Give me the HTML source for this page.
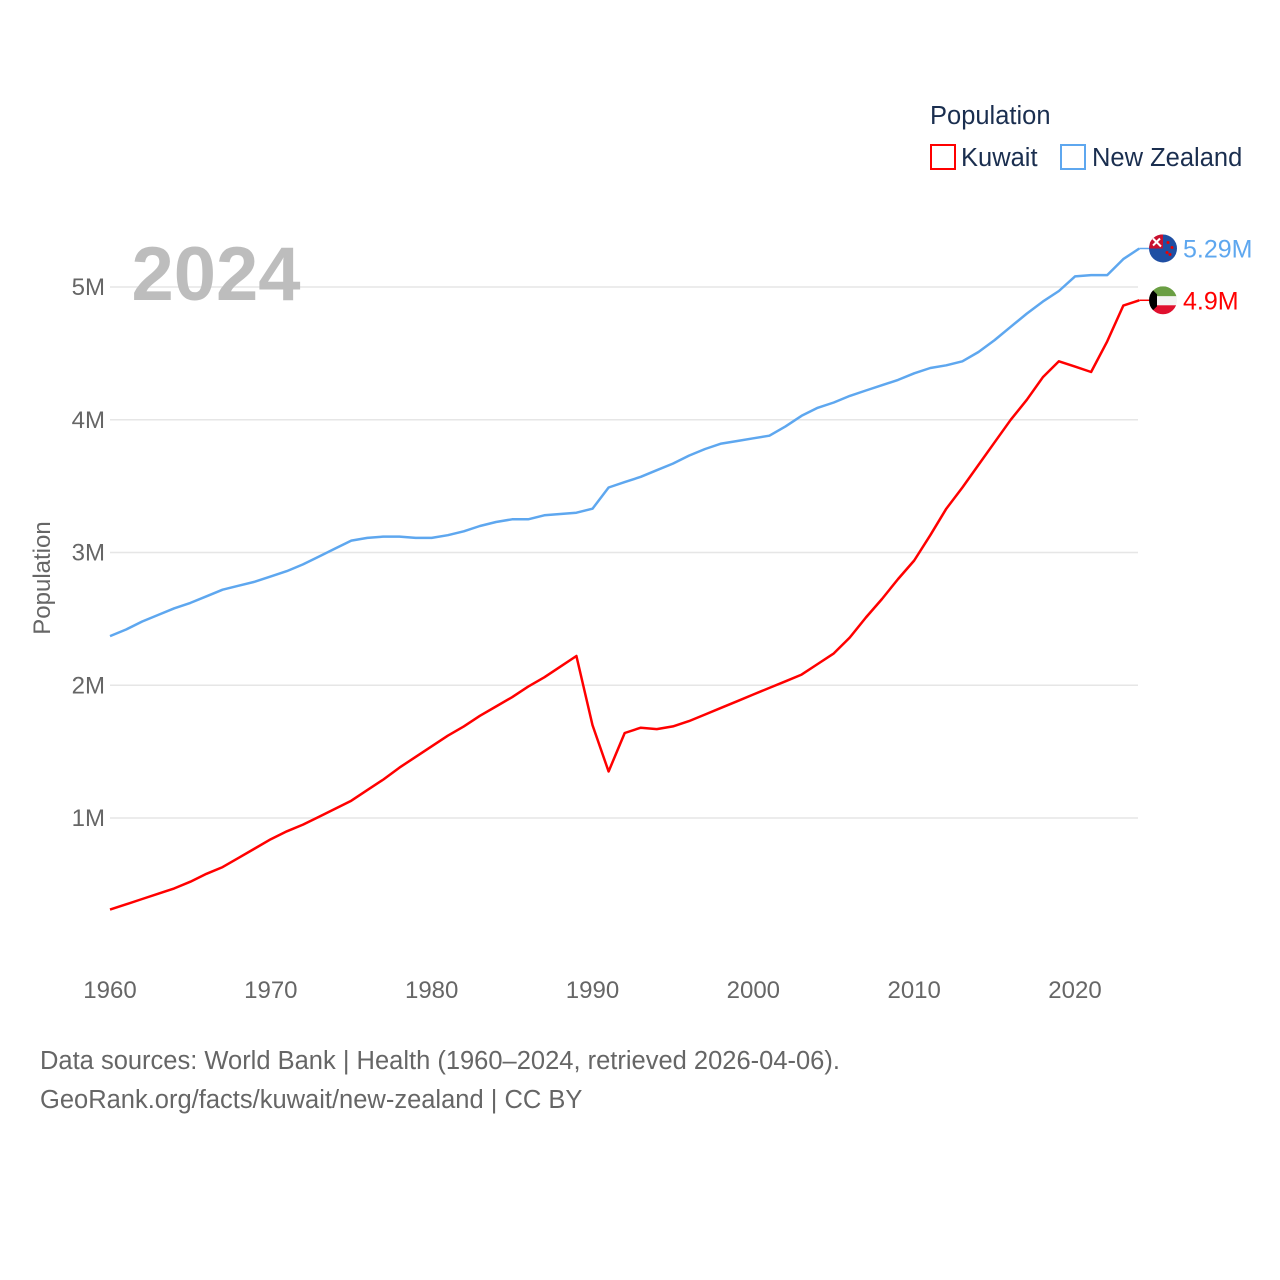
<!DOCTYPE html>
<html><head><meta charset="utf-8"><style>
html,body{margin:0;padding:0;background:#fff;}
svg{display:block;font-family:"Liberation Sans",sans-serif;}
</style></head><body>
<svg id="chart" width="1280" height="1280" viewBox="0 0 1280 1280">
<g id="grid"></g>
<g id="yticks"></g>
<g id="xticks"></g>
<text x="216" y="300" text-anchor="middle" font-size="76" font-weight="bold" fill="#bdbdbd">2024</text>
<text transform="translate(50,578) rotate(-90)" text-anchor="middle" font-size="24" fill="#666">Population</text>
<g id="series"></g>
<g id="endlabels"></g>
<g>
<text x="930" y="124" font-size="25.5" fill="#1a2e4f">Population</text>
<g>
<rect x="931" y="145" width="24" height="24" fill="none" stroke="#ff0000" stroke-width="2"/>
<text x="961" y="166" font-size="25.5" fill="#1a2e4f">Kuwait</text></g>
<g>
<rect x="1061" y="145" width="24" height="24" fill="none" stroke="#5ea7ef" stroke-width="2"/>
<text x="1092" y="166" font-size="25.5" fill="#1a2e4f">New Zealand</text></g>
</g>
<text x="40" y="1069" font-size="25.5" fill="#666">Data sources: World Bank | Health (1960–2024, retrieved 2026-04-06).</text>
<text x="40" y="1108" font-size="25.5" fill="#666">GeoRank.org/facts/kuwait/new-zealand | CC BY</text>
</svg>
<script>
const years = [];
for (let y = 1960; y <= 2024; y++) years.push(y);
const kuwait = [0.31,0.35,0.39,0.43,0.47,0.52,0.58,0.63,0.70,0.77,0.84,0.90,0.95,1.01,1.07,1.13,1.21,1.29,1.38,1.46,1.54,1.62,1.69,1.77,1.84,1.91,1.99,2.06,2.14,2.22,1.70,1.35,1.64,1.68,1.67,1.69,1.73,1.78,1.83,1.88,1.93,1.98,2.03,2.08,2.16,2.24,2.36,2.51,2.65,2.80,2.94,3.13,3.33,3.49,3.66,3.83,4.00,4.15,4.32,4.44,4.40,4.36,4.59,4.86,4.90];
const newZealand = [2.37,2.42,2.48,2.53,2.58,2.62,2.67,2.72,2.75,2.78,2.82,2.86,2.91,2.97,3.03,3.09,3.11,3.12,3.12,3.11,3.11,3.13,3.16,3.20,3.23,3.25,3.25,3.28,3.29,3.30,3.33,3.49,3.53,3.57,3.62,3.67,3.73,3.78,3.82,3.84,3.86,3.88,3.95,4.03,4.09,4.13,4.18,4.22,4.26,4.30,4.35,4.39,4.41,4.44,4.51,4.60,4.70,4.80,4.89,4.97,5.08,5.09,5.09,5.21,5.29];
const yTicks = [1,2,3,4,5];
const yTickLabels = ["1M","2M","3M","4M","5M"];
const xTicks = [1960,1970,1980,1990,2000,2010,2020];
const endLabels = ["4.9M","5.29M"];

const NS = "http://www.w3.org/2000/svg";
function xs(y){ return 110 + (y - 1960) * (1075 - 110) / 60; }
function ys(v){ return 950.75 - v * 132.75; }
function mk(tag, attrs, parent){ const e = document.createElementNS(NS, tag); for (const k in attrs) e.setAttribute(k, attrs[k]); parent.appendChild(e); return e; }

const grid = document.getElementById('grid');
const yt = document.getElementById('yticks');
yTicks.forEach((v, i) => {
  const l = mk('line', {x1:110, x2:1138, y1:ys(v), y2:ys(v), stroke:'#e6e6e6', 'stroke-width':1.5}, grid);
  
  
  const t = mk('text', {x:105, y:ys(v)+8, 'text-anchor':'end', 'font-size':24, fill:'#666'}, yt);
  t.textContent = yTickLabels[i];
  
  
});
const xt = document.getElementById('xticks');
xTicks.forEach(y => {
  const t = mk('text', {x:xs(y), y:998, 'text-anchor':'middle', 'font-size':24, fill:'#666'}, xt);
  t.textContent = y;
  
  
});
const sg = document.getElementById('series');
function line(data, color, name){
  const d = data.map((v, i) => (i ? 'L' : 'M') + xs(years[i]).toFixed(1) + ',' + ys(v).toFixed(1)).join('');
  const p = mk('path', {d:d, fill:'none', stroke:color, 'stroke-width':2.5, 'stroke-linejoin':'round'}, sg);
  
  
}
line(newZealand, '#5ea7ef', 'line-new-zealand');
line(kuwait, '#ff0000', 'line-kuwait');

const el = document.getElementById('endlabels');
function endLabel(val, txt, color, name, flag){
  const lx = xs(years[years.length-1]), ly = ys(val);
  const c = mk('line', {x1:lx, x2:lx+10, y1:ly, y2:ly, stroke:color, 'stroke-width':1.5}, el);
  
  
  const g = mk('g', {}, el);
  
  
  flag(g, 1163, ly);
  const t = mk('text', {x:1183, y:ly+9, 'font-size':25, fill:color}, el);
  t.textContent = txt;
  
  
}
endLabel(newZealand[newZealand.length-1], endLabels[1], '#5ea7ef', 'new-zealand', (g, cx, cy) => {
  mk('circle', {cx:cx, cy:cy, r:14, fill:'#1f4fa3'}, g);
  mk('path', {d:`M${cx-13},${cy-6} A14,14 0 0 1 ${cx-2},${cy-14} L${cx},${cy-14} L${cx},${cy} L${cx-14},${cy} Z`, fill:'#c8102e'}, g);
  mk('path', {d:`M${cx-10},${cy-10} L${cx-2},${cy-2} M${cx-10},${cy-3} L${cx-3},${cy-10}`, stroke:'#fff', 'stroke-width':2}, g);
  [[5,-6],[9,-1],[4,4],[7,6]].forEach(p => mk('circle', {cx:cx+p[0], cy:cy+p[1], r:1.5, fill:'#e00'}, g));
});
endLabel(kuwait[kuwait.length-1], endLabels[0], '#ff0000', 'kuwait', (g, cx, cy) => {
  const cp = mk('clipPath', {id:'kc'}, g);
  mk('circle', {cx:cx, cy:cy, r:14}, cp);
  const gg = mk('g', {'clip-path':'url(#kc)'}, g);
  mk('rect', {x:cx-14, y:cy-14, width:28, height:10, fill:'#6a9e43'}, gg);
  mk('rect', {x:cx-14, y:cy-4, width:28, height:9, fill:'#f4f4f4'}, gg);
  mk('rect', {x:cx-14, y:cy+5, width:28, height:10, fill:'#e0102e'}, gg);
  mk('path', {d:`M${cx-14},${cy-14} L${cx-6},${cy-6} L${cx-6},${cy+6} L${cx-14},${cy+14} Z`, fill:'#000'}, gg);
});
</script>
</body></html>
